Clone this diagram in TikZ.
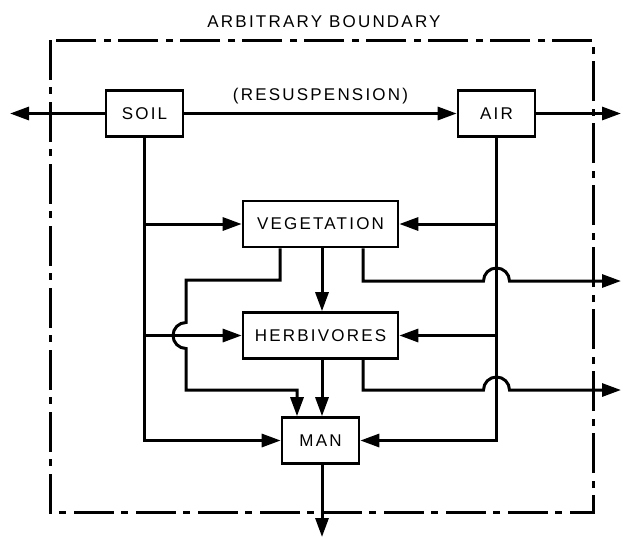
\documentclass[tikz,border=0pt]{standalone}
\usepackage{fontspec}
\setmainfont{Liberation Sans}[LetterSpace=13]
\usetikzlibrary{arrows.meta}
\begin{document}
\begin{tikzpicture}[x=1pt,y=-1pt,
  line width=3pt,
  font=\fontsize{17}{20}\selectfont,
  box/.style={draw, line width=2.6pt, inner sep=0pt, minimum height=46pt},
  smallbox/.style={box, minimum width=77pt},
  widebox/.style={box, minimum width=155pt},
  flow/.style={-{Triangle[length=19pt,width=13pt]}},
  boundary/.style={line width=3pt, dash pattern=on 40pt off 7pt on 7pt off 8pt},
  hop/.style={radius=13}]
\useasboundingbox (0,0) rectangle (623,539);

% system boundary
\draw[boundary] (50,40) rectangle (593,512);
\node (blabel) at (324,22) {ARBITRARY BOUNDARY};

% compartments
\node[smallbox] (soil) at (144.5,113.5) {SOIL};
\node[smallbox] (air)  at (496.5,113.5) {AIR};
\node[widebox]  (veg)  at (320.5,224) {VEGETATION};
\node[widebox]  (herb) at (320.5,335.5) {HERBIVORES};
\node[smallbox] (man)  at (320.5,440.5) {MAN};

% outlets and junctions
\coordinate (soilout) at (10,113.5);
\coordinate (airout)  at (621,113.5);
\coordinate (vegout)  at (621,281);
\coordinate (herbout) at (621,390);
\coordinate (manout)  at (322,537);
\coordinate (sv) at (144.5,224);
\coordinate (sh) at (144.5,335.5);
\coordinate (av) at (496.5,224);
\coordinate (ah) at (496.5,335.5);

% soil and air exchange
\draw[flow] (soil.west) -- (soilout);
\draw[flow] (soil.east) -- node[above=5pt] (resusp) {(RESUSPENSION)} (air.west);
\draw[flow] (air.east) -- (airout);

% soil pathways
\draw[flow] (soil.south) |- (man.west);
\draw[flow] (sv) -- (veg.west);
\draw[flow] (sh) -- (herb.west);

% air pathways
\draw[flow] (air.south) |- (man.east);
\draw[flow] (av) -- (veg.east);
\draw[flow] (ah) -- (herb.east);

% food chain
\draw[flow] (veg.south -| 322,0) -- (herb.north -| 322,0);
\draw[flow] (herb.south -| 322,0) -- (man.north -| 322,0);
\draw[flow] (man.south -| 322,0) -- (manout);

% vegetation to man, hopping the soil-to-herbivore line
\draw[flow] (veg.south -| 280,0) -- (280,280) -- (186,280) -- (186,322.5)
  arc[start angle=270, end angle=90, hop] -- (186,390) -- (297,390)
  -- (man.north -| 297,0);

% losses crossing the boundary, hopping the air line
\draw[flow] (veg.south -| 363,0) -- (363,281) -- (483.5,281)
  arc[start angle=180, end angle=360, hop] -- (vegout);
\draw[flow] (herb.south -| 363,0) -- (363,390) -- (483.5,390)
  arc[start angle=180, end angle=360, hop] -- (herbout);
\end{tikzpicture}
\end{document}
